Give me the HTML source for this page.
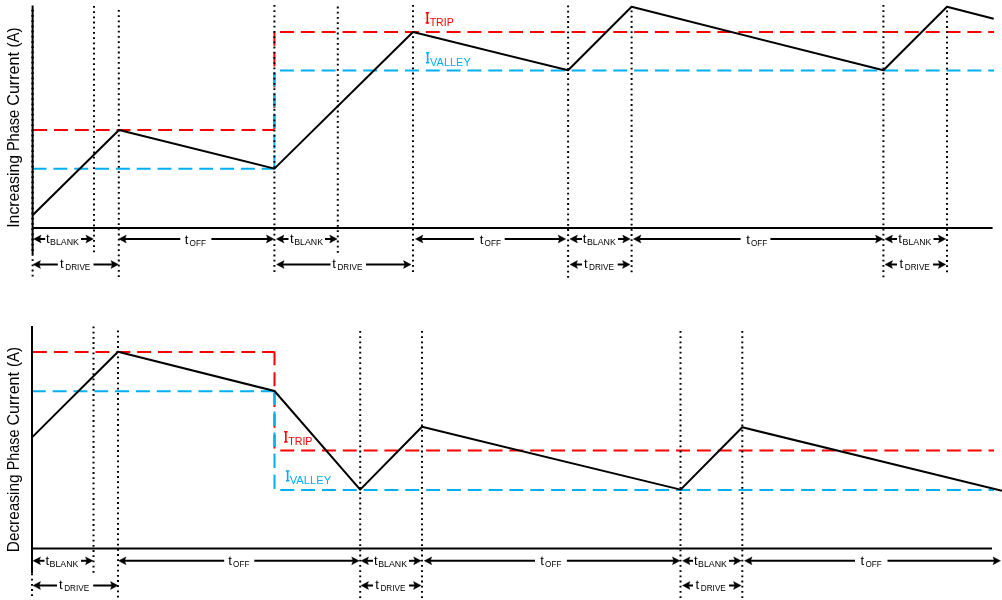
<!DOCTYPE html>
<html><head><meta charset="utf-8"><style>
html,body{margin:0;padding:0;background:#fff;width:1002px;height:600px;overflow:hidden}
svg{display:block}
text{filter:saturate(1.0001)}
.f{font-family:"Liberation Sans",sans-serif}
.s{font-family:"Liberation Serif",serif}
</style></head><body>
<svg width="1002" height="600" viewBox="0 0 1002 600">
<rect width="1002" height="600" fill="#fff"/>
<line x1="33.2" y1="130" x2="274.4" y2="130" stroke="#FF0000" stroke-width="2" stroke-dasharray="13.9 6.93" stroke-linecap="butt"/>
<line x1="274.4" y1="31.3" x2="274.4" y2="130" stroke="#FF0000" stroke-width="2" stroke-dasharray="14.5 6.3" stroke-linecap="butt"/>
<line x1="32.6" y1="168.7" x2="274.4" y2="168.7" stroke="#00B0F0" stroke-width="2" stroke-dasharray="13.9 6.93" stroke-linecap="butt"/>
<line x1="274.4" y1="71.9" x2="274.4" y2="168.7" stroke="#00B0F0" stroke-width="2" stroke-dasharray="14.5 6.3" stroke-linecap="butt"/>
<line x1="280" y1="32" x2="994" y2="32" stroke="#FF0000" stroke-width="2" stroke-dasharray="13.9 6.93" stroke-linecap="butt"/>
<line x1="280" y1="70.4" x2="994" y2="70.4" stroke="#00B0F0" stroke-width="2" stroke-dasharray="13.9 6.93" stroke-linecap="butt"/>
<line x1="94" y1="6" x2="94" y2="253" stroke="#000" stroke-width="2" stroke-dasharray="1.8 3.4" stroke-linecap="butt"/>
<line x1="118.8" y1="10" x2="118.8" y2="278.5" stroke="#000" stroke-width="2" stroke-dasharray="1.8 3.4" stroke-linecap="butt"/>
<line x1="274.4" y1="5" x2="274.4" y2="273" stroke="#000" stroke-width="2" stroke-dasharray="1.8 3.4" stroke-linecap="butt"/>
<line x1="337.8" y1="6.6" x2="337.8" y2="254" stroke="#000" stroke-width="2" stroke-dasharray="1.8 3.4" stroke-linecap="butt"/>
<line x1="413" y1="5" x2="413" y2="273" stroke="#000" stroke-width="2" stroke-dasharray="1.8 3.4" stroke-linecap="butt"/>
<line x1="568.1" y1="5.5" x2="568.1" y2="279" stroke="#000" stroke-width="2" stroke-dasharray="1.8 3.4" stroke-linecap="butt"/>
<line x1="631.6" y1="10.5" x2="631.6" y2="273.4" stroke="#000" stroke-width="2" stroke-dasharray="1.8 3.4" stroke-linecap="butt"/>
<line x1="883.4" y1="5" x2="883.4" y2="279" stroke="#000" stroke-width="2" stroke-dasharray="1.8 3.4" stroke-linecap="butt"/>
<line x1="947" y1="10.5" x2="947" y2="273" stroke="#000" stroke-width="2" stroke-dasharray="1.8 3.4" stroke-linecap="butt"/>
<line x1="32.6" y1="5.5" x2="32.6" y2="254" stroke="#000" stroke-width="2" stroke-linecap="butt"/>
<line x1="32.6" y1="9.8" x2="32.6" y2="254" stroke="#000" stroke-width="2.5" stroke-dasharray="1.8 3.4" stroke-linecap="butt"/>
<line x1="32.6" y1="254" x2="32.6" y2="278.5" stroke="#000" stroke-width="2" stroke-dasharray="1.8 3.4" stroke-linecap="butt"/>
<line x1="32.6" y1="228" x2="992.6" y2="228" stroke="#000" stroke-width="2" stroke-linecap="butt"/>
<polyline points="32.6,215.3 119,130 274.4,168.6 413,32 568.1,70.3 631.6,6.8 883.4,70.3 947,6.8 993.7,18.8" fill="none" stroke="#000" stroke-width="2" stroke-linejoin="round"/>
<path d="M425.6,12 h3.5 v1.5 h-0.95 V22.3 h0.95 v1.5 h-3.5 v-1.5 h0.95 V13.5 h-0.95 Z" fill="#FF0000"/>
<text x="429.7" y="25.6" font-size="10.4" class="f" fill="#FF0000" textLength="24.0" lengthAdjust="spacingAndGlyphs">TRIP</text>
<path d="M425.9,52 h3.5 v1.5 h-0.95 V62.1 h0.95 v1.5 h-3.5 v-1.5 h0.95 V53.5 h-0.95 Z" fill="#00B0F0"/>
<text x="430.1" y="65.6" font-size="10.4" class="f" fill="#00B0F0" textLength="40.6" lengthAdjust="spacingAndGlyphs">VALLEY</text>
<line x1="36.6" y1="239" x2="45.2" y2="239" stroke="#000" stroke-width="2" stroke-linecap="butt"/>
<line x1="81" y1="239" x2="90.4" y2="239" stroke="#000" stroke-width="2" stroke-linecap="butt"/>
<path d="M33.6,239 L41.1,235.1 L39.7,239 L41.1,242.9 Z" fill="#000" stroke="#000" stroke-width="0.4" stroke-linejoin="miter"/>
<path d="M93.4,239 L85.9,235.1 L87.30000000000001,239 L85.9,242.9 Z" fill="#000" stroke="#000" stroke-width="0.4" stroke-linejoin="miter"/>
<text x="45.9" y="243.3" font-size="13.2" class="f">t</text>
<text x="50.1" y="245.3" font-size="9.0" class="f" textLength="28.9" lengthAdjust="spacingAndGlyphs">BLANK</text>
<line x1="121.8" y1="239" x2="180.3" y2="239" stroke="#000" stroke-width="2" stroke-linecap="butt"/>
<line x1="211.4" y1="239" x2="270.9" y2="239" stroke="#000" stroke-width="2" stroke-linecap="butt"/>
<path d="M118.8,239 L126.3,235.1 L124.89999999999999,239 L126.3,242.9 Z" fill="#000" stroke="#000" stroke-width="0.4" stroke-linejoin="miter"/>
<path d="M273.9,239 L266.4,235.1 L267.79999999999995,239 L266.4,242.9 Z" fill="#000" stroke="#000" stroke-width="0.4" stroke-linejoin="miter"/>
<text x="184.8" y="244.2" font-size="13.2" class="f">t</text>
<text x="189.6" y="246.2" font-size="9.0" class="f" textLength="16.3" lengthAdjust="spacingAndGlyphs">OFF</text>
<line x1="279.4" y1="239" x2="288.5" y2="239" stroke="#000" stroke-width="2" stroke-linecap="butt"/>
<line x1="325" y1="239" x2="334.2" y2="239" stroke="#000" stroke-width="2" stroke-linecap="butt"/>
<path d="M276.4,239 L283.9,235.1 L282.5,239 L283.9,242.9 Z" fill="#000" stroke="#000" stroke-width="0.4" stroke-linejoin="miter"/>
<path d="M337.2,239 L329.7,235.1 L331.09999999999997,239 L329.7,242.9 Z" fill="#000" stroke="#000" stroke-width="0.4" stroke-linejoin="miter"/>
<text x="290.0" y="243.3" font-size="13.2" class="f">t</text>
<text x="294.2" y="245.3" font-size="9.0" class="f" textLength="28.9" lengthAdjust="spacingAndGlyphs">BLANK</text>
<line x1="418.4" y1="239" x2="474" y2="239" stroke="#000" stroke-width="2" stroke-linecap="butt"/>
<line x1="504.7" y1="239" x2="562.7" y2="239" stroke="#000" stroke-width="2" stroke-linecap="butt"/>
<path d="M415.4,239 L422.9,235.1 L421.5,239 L422.9,242.9 Z" fill="#000" stroke="#000" stroke-width="0.4" stroke-linejoin="miter"/>
<path d="M565.7,239 L558.2,235.1 L559.6,239 L558.2,242.9 Z" fill="#000" stroke="#000" stroke-width="0.4" stroke-linejoin="miter"/>
<text x="479.8" y="244.2" font-size="13.2" class="f">t</text>
<text x="484.6" y="246.2" font-size="9.0" class="f" textLength="16.3" lengthAdjust="spacingAndGlyphs">OFF</text>
<line x1="572.9" y1="239" x2="582" y2="239" stroke="#000" stroke-width="2" stroke-linecap="butt"/>
<line x1="618" y1="239" x2="627.2" y2="239" stroke="#000" stroke-width="2" stroke-linecap="butt"/>
<path d="M569.9,239 L577.4,235.1 L576.0,239 L577.4,242.9 Z" fill="#000" stroke="#000" stroke-width="0.4" stroke-linejoin="miter"/>
<path d="M630.2,239 L622.7,235.1 L624.1,239 L622.7,242.9 Z" fill="#000" stroke="#000" stroke-width="0.4" stroke-linejoin="miter"/>
<text x="582.7" y="243.3" font-size="13.2" class="f">t</text>
<text x="586.9" y="245.3" font-size="9.0" class="f" textLength="28.9" lengthAdjust="spacingAndGlyphs">BLANK</text>
<line x1="636.4" y1="239" x2="740.6" y2="239" stroke="#000" stroke-width="2" stroke-linecap="butt"/>
<line x1="770.4" y1="239" x2="880" y2="239" stroke="#000" stroke-width="2" stroke-linecap="butt"/>
<path d="M633.4,239 L640.9,235.1 L639.5,239 L640.9,242.9 Z" fill="#000" stroke="#000" stroke-width="0.4" stroke-linejoin="miter"/>
<path d="M883,239 L875.5,235.1 L876.9,239 L875.5,242.9 Z" fill="#000" stroke="#000" stroke-width="0.4" stroke-linejoin="miter"/>
<text x="746.2" y="244.2" font-size="13.2" class="f">t</text>
<text x="751.0" y="246.2" font-size="9.0" class="f" textLength="16.3" lengthAdjust="spacingAndGlyphs">OFF</text>
<line x1="888" y1="239" x2="897" y2="239" stroke="#000" stroke-width="2" stroke-linecap="butt"/>
<line x1="933.5" y1="239" x2="942.8" y2="239" stroke="#000" stroke-width="2" stroke-linecap="butt"/>
<path d="M885,239 L892.5,235.1 L891.1,239 L892.5,242.9 Z" fill="#000" stroke="#000" stroke-width="0.4" stroke-linejoin="miter"/>
<path d="M945.8,239 L938.3,235.1 L939.6999999999999,239 L938.3,242.9 Z" fill="#000" stroke="#000" stroke-width="0.4" stroke-linejoin="miter"/>
<text x="898.3" y="243.3" font-size="13.2" class="f">t</text>
<text x="902.5" y="245.3" font-size="9.0" class="f" textLength="28.9" lengthAdjust="spacingAndGlyphs">BLANK</text>
<line x1="36" y1="264.5" x2="57.8" y2="264.5" stroke="#000" stroke-width="2" stroke-linecap="butt"/>
<line x1="93.5" y1="264.5" x2="115.5" y2="264.5" stroke="#000" stroke-width="2" stroke-linecap="butt"/>
<path d="M33,264.5 L40.5,260.6 L39.1,264.5 L40.5,268.4 Z" fill="#000" stroke="#000" stroke-width="0.4" stroke-linejoin="miter"/>
<path d="M118.5,264.5 L111.0,260.6 L112.4,264.5 L111.0,268.4 Z" fill="#000" stroke="#000" stroke-width="0.4" stroke-linejoin="miter"/>
<text x="60.1" y="267.9" font-size="13.2" class="f">t</text>
<text x="65.3" y="269.9" font-size="9.0" class="f" textLength="25.0" lengthAdjust="spacingAndGlyphs">DRIVE</text>
<line x1="279.6" y1="264.5" x2="330.5" y2="264.5" stroke="#000" stroke-width="2" stroke-linecap="butt"/>
<line x1="366" y1="264.5" x2="408" y2="264.5" stroke="#000" stroke-width="2" stroke-linecap="butt"/>
<path d="M276.6,264.5 L284.1,260.6 L282.70000000000005,264.5 L284.1,268.4 Z" fill="#000" stroke="#000" stroke-width="0.4" stroke-linejoin="miter"/>
<path d="M411,264.5 L403.5,260.6 L404.9,264.5 L403.5,268.4 Z" fill="#000" stroke="#000" stroke-width="0.4" stroke-linejoin="miter"/>
<text x="332.2" y="267.9" font-size="13.2" class="f">t</text>
<text x="337.4" y="269.9" font-size="9.0" class="f" textLength="25.0" lengthAdjust="spacingAndGlyphs">DRIVE</text>
<line x1="573" y1="264.5" x2="582" y2="264.5" stroke="#000" stroke-width="2" stroke-linecap="butt"/>
<line x1="617.7" y1="264.5" x2="627" y2="264.5" stroke="#000" stroke-width="2" stroke-linecap="butt"/>
<path d="M570,264.5 L577.5,260.6 L576.1,264.5 L577.5,268.4 Z" fill="#000" stroke="#000" stroke-width="0.4" stroke-linejoin="miter"/>
<path d="M630,264.5 L622.5,260.6 L623.9,264.5 L622.5,268.4 Z" fill="#000" stroke="#000" stroke-width="0.4" stroke-linejoin="miter"/>
<text x="583.9" y="267.9" font-size="13.2" class="f">t</text>
<text x="589.0" y="269.9" font-size="9.0" class="f" textLength="25.0" lengthAdjust="spacingAndGlyphs">DRIVE</text>
<line x1="888" y1="264.5" x2="897" y2="264.5" stroke="#000" stroke-width="2" stroke-linecap="butt"/>
<line x1="933" y1="264.5" x2="942.8" y2="264.5" stroke="#000" stroke-width="2" stroke-linecap="butt"/>
<path d="M885,264.5 L892.5,260.6 L891.1,264.5 L892.5,268.4 Z" fill="#000" stroke="#000" stroke-width="0.4" stroke-linejoin="miter"/>
<path d="M945.8,264.5 L938.3,260.6 L939.6999999999999,264.5 L938.3,268.4 Z" fill="#000" stroke="#000" stroke-width="0.4" stroke-linejoin="miter"/>
<text x="899.6" y="267.9" font-size="13.2" class="f">t</text>
<text x="904.8" y="269.9" font-size="9.0" class="f" textLength="25.0" lengthAdjust="spacingAndGlyphs">DRIVE</text>
<text transform="translate(19.2,227.76) rotate(-90)" font-size="16.2" class="f" textLength="72.67" lengthAdjust="spacingAndGlyphs">Increasing</text>
<text transform="translate(19.2,151.12) rotate(-90)" font-size="16.2" class="f" textLength="41.32" lengthAdjust="spacingAndGlyphs">Phase</text>
<text transform="translate(19.2,105.75) rotate(-90)" font-size="16.2" class="f" textLength="53.73" lengthAdjust="spacingAndGlyphs">Current</text>
<text transform="translate(19.2,47.53) rotate(-90)" font-size="16.2" class="f" textLength="20.03" lengthAdjust="spacingAndGlyphs">(A)</text>
<line x1="33" y1="352" x2="274.5" y2="352" stroke="#FF0000" stroke-width="2" stroke-dasharray="13.9 6.93" stroke-linecap="butt"/>
<line x1="274.5" y1="351.4" x2="274.5" y2="450.4" stroke="#FF0000" stroke-width="2" stroke-dasharray="13.9 6.93" stroke-linecap="butt"/>
<line x1="31.8" y1="391.3" x2="274.5" y2="391.3" stroke="#00B0F0" stroke-width="2" stroke-dasharray="13.9 6.93" stroke-linecap="butt"/>
<line x1="274.5" y1="390.5" x2="274.5" y2="489.9" stroke="#00B0F0" stroke-width="2" stroke-dasharray="14.4 6.6" stroke-linecap="butt"/>
<line x1="280.3" y1="450.4" x2="994" y2="450.4" stroke="#FF0000" stroke-width="2" stroke-dasharray="13.9 6.93" stroke-linecap="butt"/>
<line x1="280.3" y1="489.9" x2="994" y2="489.9" stroke="#00B0F0" stroke-width="2" stroke-dasharray="13.9 6.93" stroke-linecap="butt"/>
<line x1="93.5" y1="326.5" x2="93.5" y2="573.5" stroke="#000" stroke-width="2" stroke-dasharray="1.8 3.4" stroke-linecap="butt"/>
<line x1="118" y1="330.5" x2="118" y2="598" stroke="#000" stroke-width="2" stroke-dasharray="1.8 3.4" stroke-linecap="butt"/>
<line x1="360.2" y1="331" x2="360.2" y2="598" stroke="#000" stroke-width="2" stroke-dasharray="1.8 3.4" stroke-linecap="butt"/>
<line x1="422" y1="331" x2="422" y2="598" stroke="#000" stroke-width="2" stroke-dasharray="1.8 3.4" stroke-linecap="butt"/>
<line x1="680.5" y1="331" x2="680.5" y2="598" stroke="#000" stroke-width="2" stroke-dasharray="1.8 3.4" stroke-linecap="butt"/>
<line x1="742.3" y1="331" x2="742.3" y2="598" stroke="#000" stroke-width="2" stroke-dasharray="1.8 3.4" stroke-linecap="butt"/>
<line x1="32" y1="326" x2="32" y2="573.5" stroke="#000" stroke-width="2" stroke-linecap="butt"/>
<line x1="32" y1="573.5" x2="32" y2="598" stroke="#000" stroke-width="2" stroke-dasharray="1.8 3.4" stroke-linecap="butt"/>
<line x1="32" y1="548.55" x2="992" y2="548.55" stroke="#000" stroke-width="2" stroke-linecap="butt"/>
<polyline points="32,437.4 118,351.7 274.5,391 360.2,489.6 422,426.8 680.6,489.6 742.3,427.3 1002,490.7" fill="none" stroke="#000" stroke-width="2" stroke-linejoin="round"/>
<path d="M284.1,431 h3.5 v1.5 h-0.95 V441.2 h0.95 v1.5 h-3.5 v-1.5 h0.95 V432.5 h-0.95 Z" fill="#FF0000"/>
<text x="288.2" y="444.7" font-size="10.4" class="f" fill="#FF0000" textLength="24.3" lengthAdjust="spacingAndGlyphs">TRIP</text>
<path d="M285.9,470.2 h3.5 v1.5 h-0.95 V480.1 h0.95 v1.5 h-3.5 v-1.5 h0.95 V471.7 h-0.95 Z" fill="#00B0F0"/>
<text x="289.7" y="484.0" font-size="10.4" class="f" fill="#00B0F0" textLength="41.4" lengthAdjust="spacingAndGlyphs">VALLEY</text>
<line x1="36" y1="560.8" x2="44.5" y2="560.8" stroke="#000" stroke-width="2" stroke-linecap="butt"/>
<line x1="81" y1="560.8" x2="90" y2="560.8" stroke="#000" stroke-width="2" stroke-linecap="butt"/>
<path d="M33,560.8 L40.5,556.9 L39.1,560.8 L40.5,564.6999999999999 Z" fill="#000" stroke="#000" stroke-width="0.4" stroke-linejoin="miter"/>
<path d="M93,560.8 L85.5,556.9 L86.9,560.8 L85.5,564.6999999999999 Z" fill="#000" stroke="#000" stroke-width="0.4" stroke-linejoin="miter"/>
<text x="45.4" y="565.1" font-size="13.2" class="f">t</text>
<text x="49.6" y="567.1" font-size="9.0" class="f" textLength="28.9" lengthAdjust="spacingAndGlyphs">BLANK</text>
<line x1="121.5" y1="560.8" x2="224.2" y2="560.8" stroke="#000" stroke-width="2" stroke-linecap="butt"/>
<line x1="254.3" y1="560.8" x2="356.2" y2="560.8" stroke="#000" stroke-width="2" stroke-linecap="butt"/>
<path d="M118.5,560.8 L126.0,556.9 L124.6,560.8 L126.0,564.6999999999999 Z" fill="#000" stroke="#000" stroke-width="0.4" stroke-linejoin="miter"/>
<path d="M359.2,560.8 L351.7,556.9 L353.09999999999997,560.8 L351.7,564.6999999999999 Z" fill="#000" stroke="#000" stroke-width="0.4" stroke-linejoin="miter"/>
<text x="228.3" y="564.7" font-size="13.2" class="f">t</text>
<text x="233.1" y="566.7" font-size="9.0" class="f" textLength="16.3" lengthAdjust="spacingAndGlyphs">OFF</text>
<line x1="364" y1="560.8" x2="373" y2="560.8" stroke="#000" stroke-width="2" stroke-linecap="butt"/>
<line x1="409" y1="560.8" x2="418.2" y2="560.8" stroke="#000" stroke-width="2" stroke-linecap="butt"/>
<path d="M361,560.8 L368.5,556.9 L367.1,560.8 L368.5,564.6999999999999 Z" fill="#000" stroke="#000" stroke-width="0.4" stroke-linejoin="miter"/>
<path d="M421.2,560.8 L413.7,556.9 L415.09999999999997,560.8 L413.7,564.6999999999999 Z" fill="#000" stroke="#000" stroke-width="0.4" stroke-linejoin="miter"/>
<text x="374.0" y="565.1" font-size="13.2" class="f">t</text>
<text x="378.2" y="567.1" font-size="9.0" class="f" textLength="28.9" lengthAdjust="spacingAndGlyphs">BLANK</text>
<line x1="427.2" y1="560.8" x2="535" y2="560.8" stroke="#000" stroke-width="2" stroke-linecap="butt"/>
<line x1="566.9" y1="560.8" x2="676.9" y2="560.8" stroke="#000" stroke-width="2" stroke-linecap="butt"/>
<path d="M424.2,560.8 L431.7,556.9 L430.3,560.8 L431.7,564.6999999999999 Z" fill="#000" stroke="#000" stroke-width="0.4" stroke-linejoin="miter"/>
<path d="M679.9,560.8 L672.4,556.9 L673.8,560.8 L672.4,564.6999999999999 Z" fill="#000" stroke="#000" stroke-width="0.4" stroke-linejoin="miter"/>
<text x="540.3" y="564.7" font-size="13.2" class="f">t</text>
<text x="545.1" y="566.7" font-size="9.0" class="f" textLength="16.3" lengthAdjust="spacingAndGlyphs">OFF</text>
<line x1="685.5" y1="560.8" x2="693" y2="560.8" stroke="#000" stroke-width="2" stroke-linecap="butt"/>
<line x1="729" y1="560.8" x2="738.2" y2="560.8" stroke="#000" stroke-width="2" stroke-linecap="butt"/>
<path d="M682.5,560.8 L690.0,556.9 L688.6,560.8 L690.0,564.6999999999999 Z" fill="#000" stroke="#000" stroke-width="0.4" stroke-linejoin="miter"/>
<path d="M741.2,560.8 L733.7,556.9 L735.1,560.8 L733.7,564.6999999999999 Z" fill="#000" stroke="#000" stroke-width="0.4" stroke-linejoin="miter"/>
<text x="693.9" y="565.1" font-size="13.2" class="f">t</text>
<text x="698.1" y="567.1" font-size="9.0" class="f" textLength="28.9" lengthAdjust="spacingAndGlyphs">BLANK</text>
<line x1="747.5" y1="560.8" x2="855" y2="560.8" stroke="#000" stroke-width="2" stroke-linecap="butt"/>
<line x1="887.5" y1="560.8" x2="997.5" y2="560.8" stroke="#000" stroke-width="2" stroke-linecap="butt"/>
<path d="M744.5,560.8 L752.0,556.9 L750.6,560.8 L752.0,564.6999999999999 Z" fill="#000" stroke="#000" stroke-width="0.4" stroke-linejoin="miter"/>
<path d="M1000.5,560.8 L993.0,556.9 L994.4,560.8 L993.0,564.6999999999999 Z" fill="#000" stroke="#000" stroke-width="0.4" stroke-linejoin="miter"/>
<text x="860.6" y="564.7" font-size="13.2" class="f">t</text>
<text x="865.4" y="566.7" font-size="9.0" class="f" textLength="16.3" lengthAdjust="spacingAndGlyphs">OFF</text>
<line x1="36" y1="585.5" x2="57" y2="585.5" stroke="#000" stroke-width="2" stroke-linecap="butt"/>
<line x1="93.2" y1="585.5" x2="115" y2="585.5" stroke="#000" stroke-width="2" stroke-linecap="butt"/>
<path d="M33,585.5 L40.5,581.6 L39.1,585.5 L40.5,589.4 Z" fill="#000" stroke="#000" stroke-width="0.4" stroke-linejoin="miter"/>
<path d="M118,585.5 L110.5,581.6 L111.9,585.5 L110.5,589.4 Z" fill="#000" stroke="#000" stroke-width="0.4" stroke-linejoin="miter"/>
<text x="59.1" y="588.9" font-size="13.2" class="f">t</text>
<text x="64.2" y="590.9" font-size="9.0" class="f" textLength="25.0" lengthAdjust="spacingAndGlyphs">DRIVE</text>
<line x1="364" y1="585.5" x2="373" y2="585.5" stroke="#000" stroke-width="2" stroke-linecap="butt"/>
<line x1="409" y1="585.5" x2="418" y2="585.5" stroke="#000" stroke-width="2" stroke-linecap="butt"/>
<path d="M361,585.5 L368.5,581.6 L367.1,585.5 L368.5,589.4 Z" fill="#000" stroke="#000" stroke-width="0.4" stroke-linejoin="miter"/>
<path d="M421,585.5 L413.5,581.6 L414.9,585.5 L413.5,589.4 Z" fill="#000" stroke="#000" stroke-width="0.4" stroke-linejoin="miter"/>
<text x="375.2" y="588.9" font-size="13.2" class="f">t</text>
<text x="380.4" y="590.9" font-size="9.0" class="f" textLength="25.0" lengthAdjust="spacingAndGlyphs">DRIVE</text>
<line x1="685.5" y1="585.5" x2="693" y2="585.5" stroke="#000" stroke-width="2" stroke-linecap="butt"/>
<line x1="729" y1="585.5" x2="738" y2="585.5" stroke="#000" stroke-width="2" stroke-linecap="butt"/>
<path d="M682.5,585.5 L690.0,581.6 L688.6,585.5 L690.0,589.4 Z" fill="#000" stroke="#000" stroke-width="0.4" stroke-linejoin="miter"/>
<path d="M741,585.5 L733.5,581.6 L734.9,585.5 L733.5,589.4 Z" fill="#000" stroke="#000" stroke-width="0.4" stroke-linejoin="miter"/>
<text x="695.6" y="588.9" font-size="13.2" class="f">t</text>
<text x="700.8" y="590.9" font-size="9.0" class="f" textLength="25.0" lengthAdjust="spacingAndGlyphs">DRIVE</text>
<text transform="translate(18.7,552.19) rotate(-90)" font-size="16.2" class="f" textLength="77.67" lengthAdjust="spacingAndGlyphs">Decreasing</text>
<text transform="translate(18.7,470.31) rotate(-90)" font-size="16.2" class="f" textLength="40.69" lengthAdjust="spacingAndGlyphs">Phase</text>
<text transform="translate(18.7,425.54) rotate(-90)" font-size="16.2" class="f" textLength="53.53" lengthAdjust="spacingAndGlyphs">Current</text>
<text transform="translate(18.7,366.92) rotate(-90)" font-size="16.2" class="f" textLength="19.92" lengthAdjust="spacingAndGlyphs">(A)</text>
</svg>
</body></html>
